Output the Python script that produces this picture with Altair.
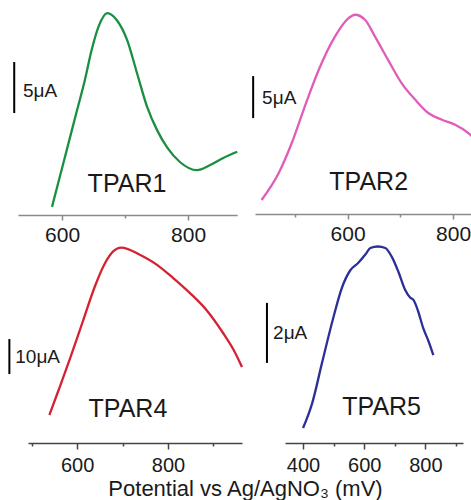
import altair as alt
import pandas as pd

# ---------------- data ----------------
# TPAR1
p1_mv = [584, 597, 610, 623, 636, 647, 658, 672, 687, 703, 719, 735, 751, 767, 787, 814, 835, 856, 878]
p1_ua = [0.6, 3.7, 6.8, 9.9, 13.0, 16.0, 18.3, 19.6, 18.9, 17.0, 13.7, 10.4, 8.1, 6.4, 5.0, 4.2, 4.7, 5.4, 6.0]
# TPAR2
p2_mv = [437, 469, 494, 519, 545, 576, 602, 614, 633, 652, 677, 703, 728, 753, 779, 804, 829, 838]
p2_ua = [1.55, 4.7, 8.3, 12.7, 17.0, 21.0, 23.2, 23.6, 23.0, 21.0, 18.2, 15.4, 13.5, 11.9, 11.1, 10.5, 9.5, 9.0]
# TPAR4
p3_mv = [539, 559, 585, 612, 640, 660, 680, 697, 712, 735, 776, 811, 848, 886, 921, 945, 963]
p3_ua = [8.0, 15.0, 24.3, 34.5, 45.0, 51.0, 54.8, 55.8, 55.4, 54.0, 50.9, 47.2, 42.9, 37.8, 31.5, 26.5, 21.7]
# TPAR5
p4_mv = [400, 430, 462, 497, 528, 554, 580, 605, 620, 645, 669, 692, 712, 734, 750, 761, 776, 793, 810, 826]
p4_ua = [0.5, 1.33, 2.67, 4.1, 5.2, 5.75, 6.0, 6.3, 6.5, 6.55, 6.5, 6.17, 5.7, 5.1, 4.85, 4.77, 4.4, 3.83, 3.4, 2.93]

names = ["TPAR1", "TPAR2", "TPAR4", "TPAR5"]
bar_labels = ["5μA", "5μA", "10μA", "2μA"]
p1_ticks = [600, 700, 800]
p2_ticks = [500, 600, 700, 800]
p3_ticks = [500, 600, 700, 800, 900]
p4_ticks = [400, 500, 600, 700, 800, 900]
x_title = "Potential vs Ag/AgNO₃ (mV)"

FONT = "Liberation Sans"
INK = "#1a1a1a"


def panel(mv, ua, color, xdom, xrng, ydom, yrng, axis_offset, ticks, major, pad,
          axis_color, bar, lbl, name, name_pos, tick_font, title=None):
    def xs():
        return alt.Scale(domain=xdom, range=xrng, nice=False, zero=False)

    def ys():
        return alt.Scale(domain=ydom, range=yrng, nice=False, zero=False)

    ax = dict(
        orient="bottom", offset=axis_offset, values=ticks, grid=False,
        domainColor=axis_color, domainWidth=1.5, tickColor=axis_color, tickWidth=1.5,
        tickSize={"condition": {"test": "datum.value % 200 === 0", "value": major}, "value": 3},
        labelExpr="datum.value % 200 === 0 ? datum.label : ''",
        labelFont=FONT, labelFontSize=tick_font, labelColor=INK, labelPadding=pad,
        labelFlush=False, labelOverlap=False, format="d",
    )
    if title:
        ax.update(title=title, titleX=245, titleY=52, titleAlign="center",
                  titleBaseline="alphabetic", titleFont=FONT, titleFontSize=22,
                  titleFontWeight="normal", titleColor=INK)
    else:
        ax.update(title=None)
    df = pd.DataFrame({"x": mv, "y": ua})
    line = alt.Chart(df).mark_line(color=color, strokeWidth=2.3, interpolate="monotone").encode(
        x=alt.X("x:Q", scale=xs(), axis=alt.Axis(**ax)),
        y=alt.Y("y:Q", scale=ys(), axis=None),
    )
    bx, by0, by1, tx, ty = bar
    bdf = pd.DataFrame({"x": [bx], "y": [by0], "y2": [by1]})
    rule = alt.Chart(bdf).mark_rule(color="black", strokeWidth=2).encode(
        x=alt.X("x:Q", scale=xs(), axis=None), y=alt.Y("y:Q", scale=ys(), axis=None), y2="y2:Q"
    )
    tdf = pd.DataFrame({"x": [tx], "y": [ty], "t": [lbl]})
    btxt = alt.Chart(tdf).mark_text(align="left", baseline="alphabetic", font=FONT,
                                     fontSize=19, color=INK).encode(
        x=alt.X("x:Q", scale=xs(), axis=None), y=alt.Y("y:Q", scale=ys(), axis=None), text="t:N"
    )
    ndf = pd.DataFrame({"x": [name_pos[0]], "y": [name_pos[1]], "t": [name]})
    ntxt = alt.Chart(ndf).mark_text(align="center", baseline="alphabetic", font=FONT,
                                     fontSize=25, color=INK).encode(
        x=alt.X("x:Q", scale=xs(), axis=None), y=alt.Y("y:Q", scale=ys(), axis=None), text="t:N"
    )
    return [line, rule, btxt, ntxt]


layers = []
layers += panel(p1_mv, p1_ua, "#1a8f42", [530, 878], [18, 237.2], [0, 20], [213, 9],
                215 - 500, p1_ticks, 5, 4, "#8a8a8a",
                (524, 9.8, 14.8, 538, 11.4), bar_labels[0], names[0], (703, 2.06), 21)
layers += panel(p2_mv, p2_ua, "#e05cb8", [424.5, 840], [255, 474.2], [0, 25], [213, 3],
                214 - 500, p2_ticks, 5, 4, "#8a8a8a",
                (421, 11.3, 16.3, 438, 13.0), bar_labels[1], names[1], (640, 2.74), 21)
layers += panel(p3_mv, p3_ua, "#d42232", [492, 963], [28, 242], [0, 60], [443, 233],
                443 - 500, p3_ticks, 6, 6, "#444444",
                (451, 19.7, 29.7, 464, 22.9), bar_labels[2], names[2], (712, 7.4), 20,
                title=x_title)
layers += panel(p4_mv, p4_ua, "#2b2f96", [341, 923], [285, 463], [0, 7], [443, 233],
                443 - 500, p4_ticks, 6, 6, "#444444",
                (282, 2.67, 4.67, 302, 3.47), bar_labels[3], names[3], (657, 0.93), 20)

chart = (
    alt.layer(*layers)
    .resolve_scale(x="independent", y="independent")
    .properties(width=471, height=500, padding=0,
                autosize=alt.AutoSizeParams(type="none"), background="white")
    .configure_view(stroke=None)
)

chart.save("out.html", embed_options={"renderer": "svg", "actions": False})
